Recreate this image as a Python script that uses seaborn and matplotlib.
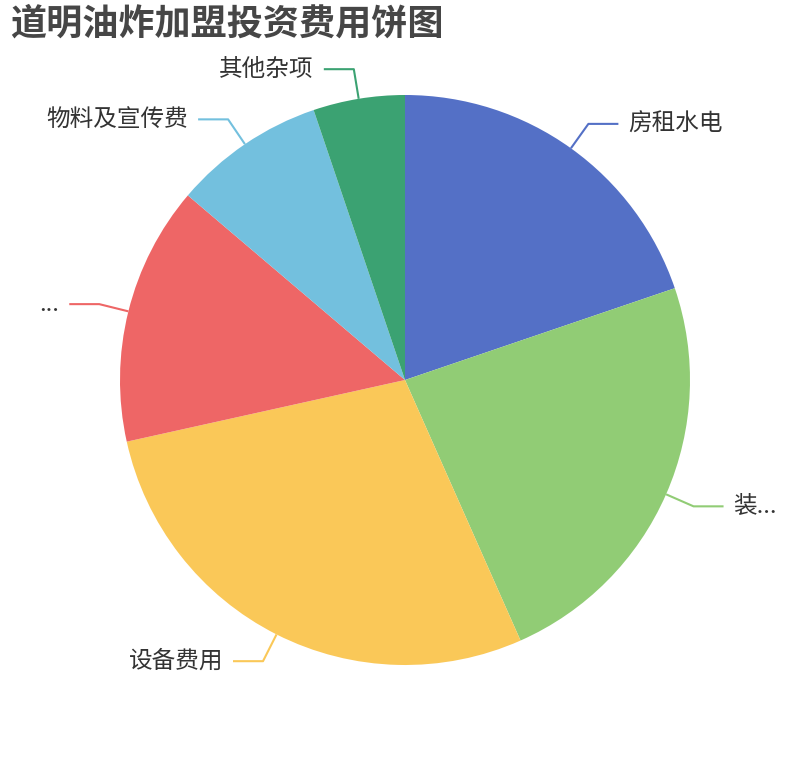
import numpy as np
import matplotlib
matplotlib.use("Agg")
import matplotlib.pyplot as plt
import seaborn as sns

# --- data (share of investment) ---
categories = ["房租水电", "装修费用", "设备费用", "人员工资", "物料及宣传费", "其他杂项"]
shown_labels = ["房租水电", "装...", "设备费用", "...", "物料及宣传费", "其他杂项"]
values = [19.8, 23.6, 28.2, 14.7, 8.6, 5.2]
title = "道明油炸加盟投资费用饼图"

# echarts default palette
colors = sns.color_palette(["#5470c6", "#91cc75", "#fac858", "#ee6666", "#73c0de", "#3ba272"])

sns.set_theme(style="white")
plt.rcParams['font.family'] = ['Noto Sans CJK SC', 'DejaVu Sans']

W, H = 810, 760
fig = plt.figure(figsize=(W / 100, H / 100), dpi=100)
ax = fig.add_axes([0, 0, 1, 1])

cx, cy, R = 405, H - 380, 285
wedges, _ = ax.pie(values, colors=colors, startangle=90, counterclock=False,
                   center=(cx, cy), radius=R, wedgeprops=dict(linewidth=0))

# pie() resets the limits, so put the pixel frame back afterwards
ax.set_xlim(0, W)
ax.set_ylim(0, H)
ax.set_aspect("equal")
ax.axis("off")

# label lines: radial piece then horizontal piece, like echarts
for w, lab, col in zip(wedges, shown_labels, colors):
    mid = np.deg2rad((w.theta1 + w.theta2) / 2)
    x0, y0 = cx + R * np.cos(mid), cy + R * np.sin(mid)
    x1, y1 = cx + (R + 30) * np.cos(mid), cy + (R + 30) * np.sin(mid)
    side = 1 if np.cos(mid) >= 0 else -1
    x2 = x1 + side * 30
    ax.plot([x0, x1, x2], [y0, y1, y1], color=col, lw=1.5, solid_capstyle="butt")
    ax.text(x2 + side * 10, y1, lab, ha="left" if side > 0 else "right",
            va="center", fontsize=17, color="#333333")

fig.text(10 / W, 1 - 24 / H, title, ha="left", va="center",
         fontsize=26, fontweight="bold", color="#464646")

fig.savefig("out.png", dpi=100)
